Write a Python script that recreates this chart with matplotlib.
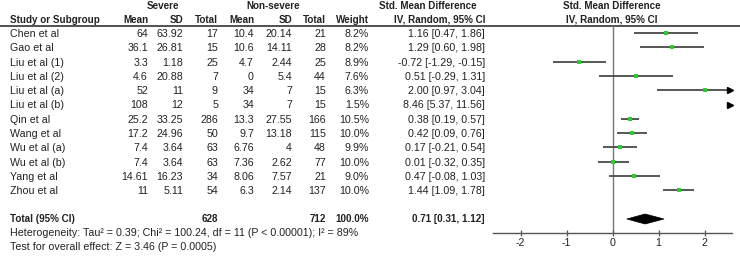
import matplotlib
matplotlib.use("Agg")
import matplotlib.pyplot as plt
from matplotlib.patches import Polygon

# --- data ---
studies = ["Chen et al", "Gao et al", "Liu et al (1)", "Liu et al (2)", "Liu et al (a)",
           "Liu et al (b)", "Qin et al", "Wang et al", "Wu et al (a)", "Wu et al (b)",
           "Yang et al", "Zhou et al"]
sev_mean = ["64", "36.1", "3.3", "4.6", "52", "108", "25.2", "17.2", "7.4", "7.4", "14.61", "11"]
sev_sd = ["63.92", "26.81", "1.18", "20.88", "11", "12", "33.25", "24.96", "3.64", "3.64", "16.23", "5.11"]
sev_n = [17, 15, 25, 7, 9, 5, 286, 50, 63, 63, 34, 54]
non_mean = ["10.4", "10.6", "4.7", "0", "34", "34", "13.3", "9.7", "6.76", "7.36", "8.06", "6.3"]
non_sd = ["20.14", "14.11", "2.44", "5.4", "7", "7", "27.55", "13.18", "4", "2.62", "7.57", "2.14"]
non_n = [21, 28, 25, 44, 15, 15, 166, 115, 48, 77, 21, 137]
weight = [8.2, 8.2, 8.9, 7.6, 6.3, 1.5, 10.5, 10.0, 9.9, 10.0, 9.0, 10.0]
smd = [1.16, 1.29, -0.72, 0.51, 2.00, 8.46, 0.38, 0.42, 0.17, 0.01, 0.47, 1.44]
lo = [0.47, 0.60, -1.29, -0.29, 0.97, 5.37, 0.19, 0.09, -0.21, -0.32, -0.08, 1.09]
hi = [1.86, 1.98, -0.15, 1.31, 3.04, 11.56, 0.57, 0.76, 0.54, 0.35, 1.03, 1.78]
total_sev, total_non = 628, 712
pooled, pooled_lo, pooled_hi = 0.71, 0.31, 1.12
het_text = "Heterogeneity: Tau\u00b2 = 0.39; Chi\u00b2 = 100.24, df = 11 (P < 0.00001); I\u00b2 = 89%"
test_text = "Test for overall effect: Z = 3.46 (P = 0.0005)"
xticks = [-2, -1, 0, 1, 2]

plt.rcParams['font.family'] = ['Liberation Sans', 'DejaVu Sans']

W, H = 740, 257
fig = plt.figure(figsize=(W / 100, H / 100), dpi=100)
fig.patch.set_facecolor("white")

# text panel, in pixel coordinates
ax_t = fig.add_axes([0, 0, 1, 1])
ax_t.set_xlim(0, W)
ax_t.set_ylim(H, 0)
ax_t.axis("off")

TXT = "#222222"
FS = 7.7
BFS = 7.1
row_y = [33 + 14.3 * i for i in range(len(studies))]
y_total, y_het, y_test, y_axis = 219, 233, 247, 233

# headers
ax_t.text(163, 6, "Severe", fontsize=BFS, fontweight="bold", ha="center", va="center", color=TXT)
ax_t.text(273, 6, "Non-severe", fontsize=BFS, fontweight="bold", ha="center", va="center", color=TXT)
ax_t.text(428, 6, "Std. Mean Difference", fontsize=BFS, fontweight="bold", ha="center", va="center", color=TXT)
ax_t.text(612, 6, "Std. Mean Difference", fontsize=BFS, fontweight="bold", ha="center", va="center", color=TXT)
hdr = [(10, "Study or Subgroup", "left"), (148, "Mean", "right"), (183, "SD", "right"),
       (218, "Total", "right"), (254, "Mean", "right"), (292, "SD", "right"),
       (326, "Total", "right"), (369, "Weight", "right"), (485, "IV, Random, 95% CI", "right")]
for x, s, ha in hdr:
    ax_t.text(x, 20, s, fontsize=BFS, fontweight="bold", ha=ha, va="center", color=TXT)
ax_t.text(612, 20, "IV, Random, 95% CI", fontsize=BFS, fontweight="bold", ha="center", va="center", color=TXT)
ax_t.plot([0, W], [26, 26], color="#333333", lw=1.2)

# study rows
for i, y in enumerate(row_y):
    cells = [(10, studies[i], "left"), (148, sev_mean[i], "right"), (183, sev_sd[i], "right"),
             (218, str(sev_n[i]), "right"), (254, non_mean[i], "right"), (292, non_sd[i], "right"),
             (326, str(non_n[i]), "right"), (369, f"{weight[i]:.1f}%", "right"),
             (485, f"{smd[i]:.2f} [{lo[i]:.2f}, {hi[i]:.2f}]", "right")]
    for x, s, ha in cells:
        ax_t.text(x, y + 1, s, fontsize=FS, ha=ha, va="center", color=TXT)

# total + footer
ax_t.text(10, y_total, "Total (95% CI)", fontsize=BFS, fontweight="bold", ha="left", va="center", color=TXT)
ax_t.text(218, y_total, str(total_sev), fontsize=BFS, fontweight="bold", ha="right", va="center", color=TXT)
ax_t.text(326, y_total, str(total_non), fontsize=BFS, fontweight="bold", ha="right", va="center", color=TXT)
ax_t.text(369, y_total, "100.0%", fontsize=BFS, fontweight="bold", ha="right", va="center", color=TXT)
ax_t.text(485, y_total, f"{pooled:.2f} [{pooled_lo:.2f}, {pooled_hi:.2f}]", fontsize=BFS,
          fontweight="bold", ha="right", va="center", color=TXT)
ax_t.text(10, y_het, het_text, fontsize=FS, ha="left", va="center", color=TXT)
ax_t.text(10, y_test, test_text, fontsize=FS, ha="left", va="center", color=TXT)

# forest panel: x in SMD units, y in pixel rows
x0_px, unit_px = 612.5, 46.0
left_px = 490
ax_f = fig.add_axes([left_px / W, 0, (W - left_px) / W, 1])
ax_f.set_xlim((left_px - x0_px) / unit_px, (W - x0_px) / unit_px)
ax_f.set_ylim(H, 0)
ax_f.patch.set_alpha(0)
for s in ["top", "left", "right"]:
    ax_f.spines[s].set_visible(False)
ax_f.spines["bottom"].set_position(("data", y_axis))
ax_f.spines["bottom"].set_bounds(-2.6, 2.6)
ax_f.spines["bottom"].set_color("#555555")
ax_f.spines["bottom"].set_linewidth(1.0)
ax_f.set_yticks([])
ax_f.set_xticks(xticks)
ax_f.set_xticklabels([str(t) for t in xticks])
ax_f.tick_params(axis="x", direction="inout", length=5, width=0.9, color="#555555",
                 labelsize=FS, labelcolor=TXT, pad=1)

xmax = 2.6
ax_f.plot([0, 0], [26, y_axis], color="#777777", lw=1.0, zorder=1)
LINE = "#4a4a4a"
GREEN = "#2ecc2e"
for i, y in enumerate(row_y):
    a, b = lo[i], hi[i]
    if a < xmax:
        ax_f.plot([a, min(b, xmax)], [y, y], color=LINE, lw=1.3, solid_capstyle="butt", zorder=2)
    if b > xmax:
        ax_f.plot(xmax - 0.05, y, marker=">", color="black", markersize=4, zorder=3)
    if smd[i] < xmax:
        ax_f.plot(smd[i], y, marker="s", color=GREEN, markersize=2.8, markeredgewidth=0, zorder=3)

dia = Polygon([(pooled_lo, y_total), (pooled, y_total - 5), (pooled_hi, y_total), (pooled, y_total + 5)],
              closed=True, facecolor="black", edgecolor="black", lw=0.5, zorder=3)
ax_f.add_patch(dia)

fig.savefig("out.png", dpi=100, facecolor="white")
